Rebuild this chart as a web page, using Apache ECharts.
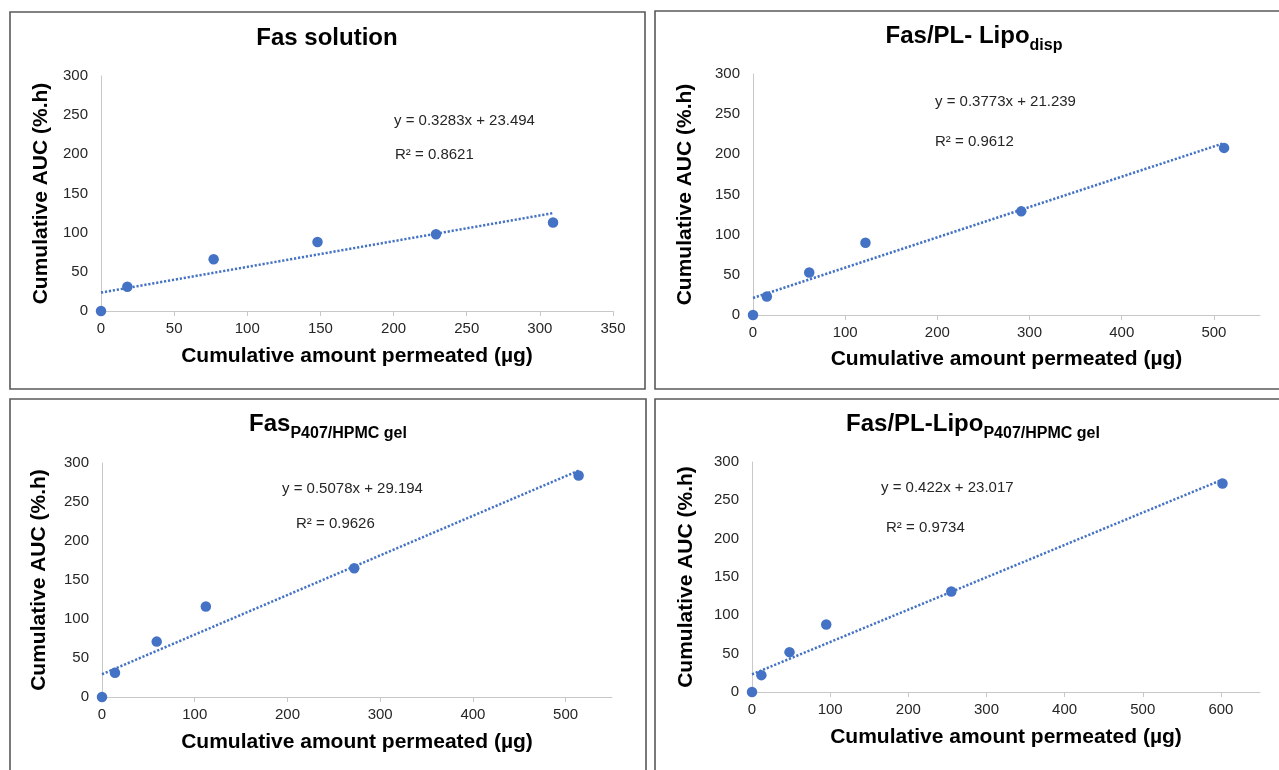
<!DOCTYPE html>
<html>
<head>
<meta charset="utf-8">
<script src="https://cdn.jsdelivr.net/npm/echarts@6/dist/echarts.min.js"></script>
<style>
  html, body { margin: 0; padding: 0; background: #ffffff; }
  #grafico { width: 1279px; height: 770px; }
</style>
</head>
<body>
<div id="grafico"></div>
<script>
// dados
const titulos = ['Fas solution', 'Fas/PL- Lipo', 'Fas', 'Fas/PL-Lipo']
const subscritos = ['', 'disp', 'P407/HPMC gel', 'P407/HPMC gel']

const xSolucao = [0, 18, 77, 148, 229, 309]
const ySolucao = [0, 31, 66, 88, 98, 113]
const xLipoDisp = [0, 15, 61, 122, 291, 511]
const yLipoDisp = [0, 23, 53, 90, 129, 208]
const xGel = [0, 14, 59, 112, 272, 514]
const yGel = [0, 31, 71, 116, 165, 284]
const xLipoGel = [0, 12, 48, 95, 255, 602]
const yLipoGel = [0, 22, 52, 88, 131, 272]

const inclinacoes = [0.3283, 0.3773, 0.5078, 0.422]
const interceptos = [23.494, 21.239, 29.194, 23.017]
const equacoes = ['y = 0.3283x + 23.494', 'y = 0.3773x + 21.239', 'y = 0.5078x + 29.194', 'y = 0.422x + 23.017']
const textosR2 = ['R² = 0.8621', 'R² = 0.9612', 'R² = 0.9626', 'R² = 0.9734']

const xMaximos = [350, 550, 550, 650]
const xTicks = [
    [0, 50, 100, 150, 200, 250, 300, 350],
    [0, 100, 200, 300, 400, 500],
    [0, 100, 200, 300, 400, 500],
    [0, 100, 200, 300, 400, 500, 600]
]
const yTicks = [0, 50, 100, 150, 200, 250, 300]
const nomeX = 'Cumulative amount permeated (µg)'
const nomeY = 'Cumulative AUC (%.h)'

const xDados = [xSolucao, xLipoDisp, xGel, xLipoGel]
const yDados = [ySolucao, yLipoDisp, yGel, yLipoGel]

const fonte = 'Liberation Sans, Arial, sans-serif'
const azul = '#4472c4'
const texto = '#262626'

const paineis = [
    {grid: {left: 101, top: 76, width: 512, height: 235}, titulo: [327, 41], eq: [394, 121], r2: [395, 155], gapX: 35, gapY: 49, borda: [10, 12, 635, 377]},
    {grid: {left: 753, top: 74, width: 507, height: 241}, titulo: [974, 39], eq: [935, 102], r2: [935, 142], gapX: 34, gapY: 57, borda: [655, 11, 640, 378]},
    {grid: {left: 102, top: 463, width: 510, height: 234}, titulo: [328, 427], eq: [282, 489], r2: [296, 524], gapX: 35, gapY: 52, borda: [10, 399, 636, 390]},
    {grid: {left: 752, top: 462, width: 508, height: 230}, titulo: [973, 427], eq: [881, 488], r2: [886, 528], gapX: 35, gapY: 55, borda: [655, 399, 640, 390]}
]

function pontos(xs, ys){
    return xs.map((x, i) => [x, ys[i]])
}

function linhaTendencia(i){
    let xs = xDados[i]
    let x0 = Math.min(...xs)
    let x1 = Math.max(...xs)
    return [[x0, inclinacoes[i] * x0 + interceptos[i]], [x1, inclinacoes[i] * x1 + interceptos[i]]]
}

let grids = [], xAxes = [], yAxes = [], series = [], graficos = []

paineis.forEach((p, i) => {
    grids.push(Object.assign({outerBoundsMode: 'none'}, p.grid))

    xAxes.push({
        type: 'value', gridIndex: i, min: 0, max: xMaximos[i],
        interval: xTicks[i][1] - xTicks[i][0],
        name: nomeX, nameLocation: 'middle', nameGap: p.gapX, nameMoveOverlap: false,
        nameTextStyle: {fontFamily: fonte, fontSize: 21, fontWeight: 'bold', color: '#000'},
        axisLine: {show: true, lineStyle: {color: '#c8c8c8', width: 1}},
        axisTick: {show: true, length: 5, lineStyle: {color: '#c8c8c8'}, customValues: xTicks[i]},
        axisLabel: {fontFamily: fonte, fontSize: 15, color: texto, margin: 10, customValues: xTicks[i]},
        splitLine: {show: false}
    })

    yAxes.push({
        type: 'value', gridIndex: i, min: 0, max: 300, interval: 50,
        name: nomeY, nameLocation: 'middle', nameGap: p.gapY, nameMoveOverlap: false,
        nameTextStyle: {fontFamily: fonte, fontSize: 21, fontWeight: 'bold', color: '#000'},
        axisLine: {show: true, lineStyle: {color: '#c8c8c8', width: 1}},
        axisTick: {show: false},
        axisLabel: {fontFamily: fonte, fontSize: 15, color: texto, margin: 13, customValues: yTicks},
        splitLine: {show: false}
    })

    series.push({
        type: 'line', xAxisIndex: i, yAxisIndex: i,
        data: linhaTendencia(i),
        showSymbol: false, symbol: 'none', silent: true,
        lineStyle: {color: azul, width: 2.5, type: [2.2, 1.8]},
        z: 2
    })
    series.push({
        type: 'scatter', xAxisIndex: i, yAxisIndex: i,
        data: pontos(xDados[i], yDados[i]),
        symbol: 'circle', symbolSize: 10.5,
        itemStyle: {color: azul, opacity: 1},
        z: 3
    })

    // moldura de cada painel
    graficos.push({
        type: 'rect', silent: true,
        shape: {x: p.borda[0], y: p.borda[1], width: p.borda[2], height: p.borda[3]},
        style: {fill: 'none', stroke: '#595959', lineWidth: 1.6}
    })

    let textoTitulo = '{t|' + titulos[i] + '}' + (subscritos[i] ? '{s|' + subscritos[i] + '}' : '')
    graficos.push({
        type: 'text', x: p.titulo[0], y: p.titulo[1],
        style: {
            text: textoTitulo, align: 'center', verticalAlign: 'middle',
            rich: {
                t: {fontFamily: fonte, fontSize: 24, fontWeight: 'bold', fill: '#000', lineHeight: 30, verticalAlign: 'top'},
                s: {fontFamily: fonte, fontSize: 16, fontWeight: 'bold', fill: '#000', lineHeight: 14, verticalAlign: 'bottom'}
            }
        }
    })

    graficos.push({
        type: 'text', x: p.eq[0], y: p.eq[1],
        style: {text: equacoes[i], fontFamily: fonte, fontSize: 15, fill: texto, align: 'left', verticalAlign: 'middle'}
    })
    graficos.push({
        type: 'text', x: p.r2[0], y: p.r2[1],
        style: {text: textosR2[i], fontFamily: fonte, fontSize: 15, fill: texto, align: 'left', verticalAlign: 'middle'}
    })
})

let option = {
    animation: false,
    backgroundColor: '#ffffff',
    grid: grids,
    xAxis: xAxes,
    yAxis: yAxes,
    series: series,
    graphic: graficos
}

const chart = echarts.init(document.getElementById('grafico'))
chart.setOption(option)
</script>
</body>
</html>
